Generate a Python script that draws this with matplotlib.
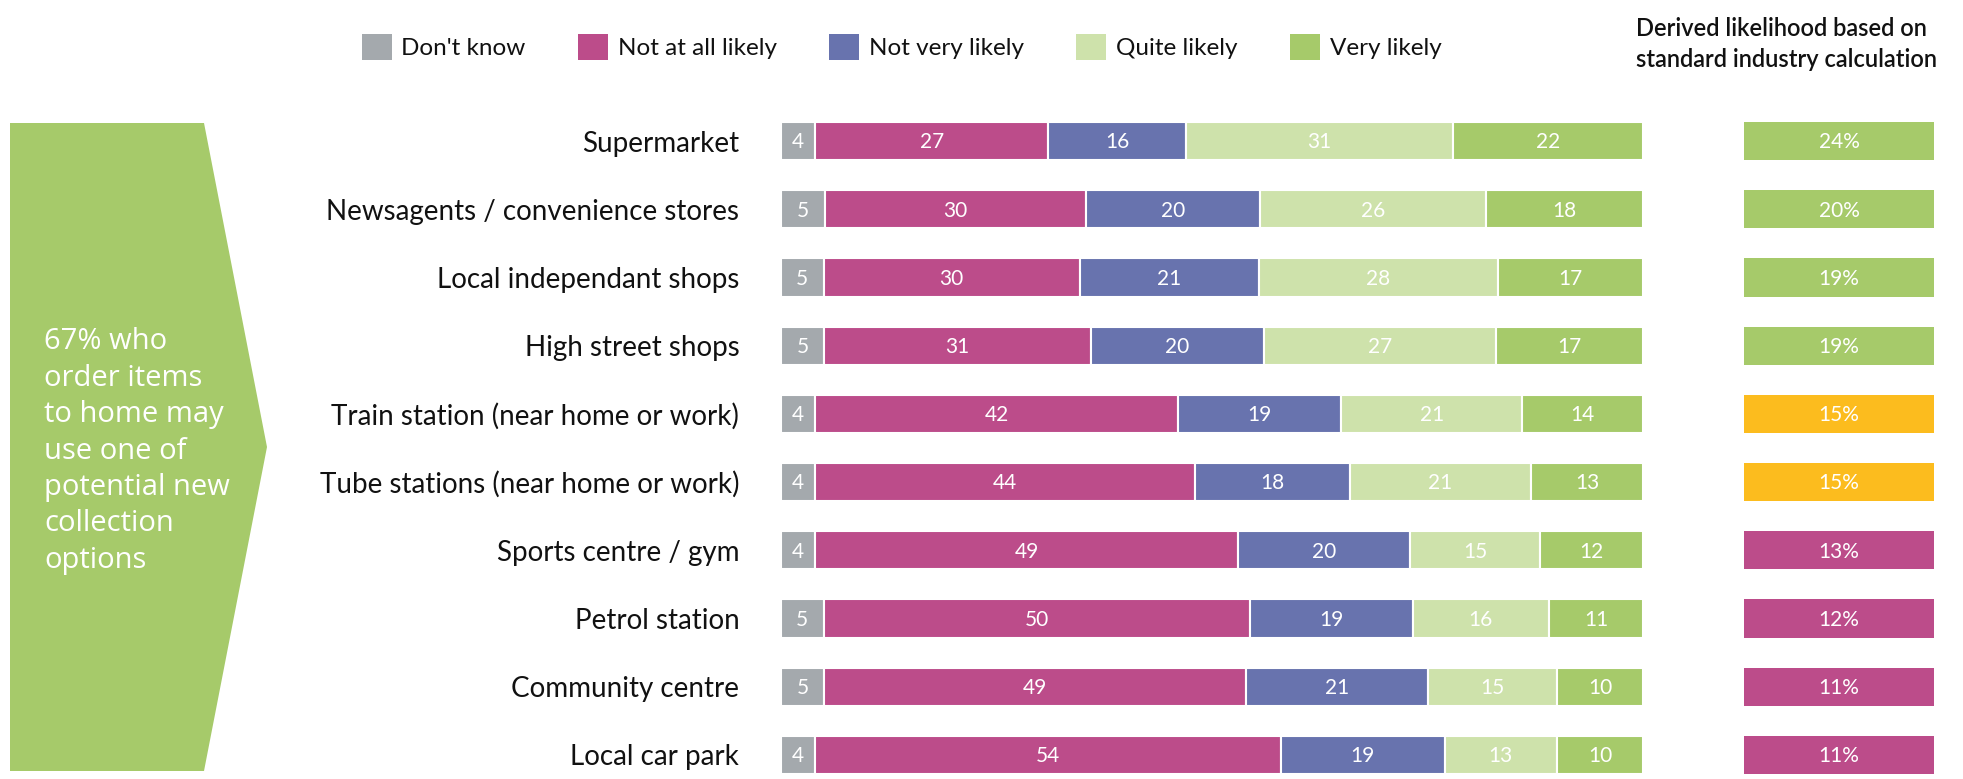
import matplotlib
matplotlib.use('Agg')
import matplotlib.pyplot as plt
from matplotlib.patches import Polygon, Patch

# ---------------- data ----------------
categories = ["Supermarket", "Newsagents / convenience stores", "Local independant shops",
              "High street shops", "Train station (near home or work)",
              "Tube stations (near home or work)", "Sports centre / gym", "Petrol station",
              "Community centre", "Local car park"]
dont_know = [4, 5, 5, 5, 4, 4, 4, 5, 5, 4]
not_at_all_likely = [27, 30, 30, 31, 42, 44, 49, 50, 49, 54]
not_very_likely = [16, 20, 21, 20, 19, 18, 20, 19, 21, 19]
quite_likely = [31, 26, 28, 27, 21, 21, 15, 16, 15, 13]
very_likely = [22, 18, 17, 17, 14, 13, 12, 11, 10, 10]
derived_likelihood = [24, 20, 19, 19, 15, 15, 13, 12, 11, 11]
derived_bands = ["high", "high", "high", "high", "mid", "mid", "low", "low", "low", "low"]

series_names = ["Don't know", "Not at all likely", "Not very likely", "Quite likely", "Very likely"]
series_values = [dont_know, not_at_all_likely, not_very_likely, quite_likely, very_likely]
series_colors = ["#A4A9AD", "#BC4C8A", "#6873AE", "#CEE2AB", "#A6CA6A"]
band_colors = {"high": "#A6CA6A", "mid": "#FCBC1E", "low": "#BC4C8A"}

header_text = "Derived likelihood based on\nstandard industry calculation"
arrow_text = "67% who\norder items\nto home may\nuse one of\npotential new\ncollection\noptions"

# ---------------- layout ----------------
W, H = 1963, 779
fig = plt.figure(figsize=(W / 100, H / 100), dpi=100)
fig.patch.set_facecolor('white')

LABEL_FONT = ['Lato', 'DejaVu Sans']
NUM_FONT = ['Liberation Sans Narrow', 'Lato', 'DejaVu Sans']

# background axes in pixel coords (for arrow shape)
bg = fig.add_axes([0, 0, 1, 1], zorder=0)
bg.set_xlim(0, W)
bg.set_ylim(H, 0)
bg.axis('off')
arrow = Polygon([(10, 123), (204, 123), (267, 447), (204, 771), (10, 771)],
                closed=True, facecolor="#A6CA6A", edgecolor='none')
bg.add_patch(arrow)
bg.text(44, 451, arrow_text, color='white', fontsize=21, family=['Open Sans', 'DejaVu Sans'],
        ha='left', va='center', linespacing=1.34)

# main stacked bar axes
top_px = 107
ax = fig.add_axes([781 / W, 0, (1643 - 781) / W, (H - top_px) / H], zorder=1)
unit = 68.2
ax.set_ylim(-0.5 + (H - top_px) / unit, -0.5)
ax.set_xlim(0, 100)
n = len(categories)
ypos = list(range(n))
row_totals = [sum(s[i] for s in series_values) for i in range(n)]
lefts = [0.0] * n
handles = []
for name, vals, col in zip(series_names, series_values, series_colors):
    widths = [v / t * 100 for v, t in zip(vals, row_totals)]
    ax.barh(ypos, widths, left=lefts, height=0.56, color=col,
            edgecolor='white', linewidth=1.5, label=name)
    for i, (v, w, l) in enumerate(zip(vals, widths, lefts)):
        ax.text(l + w / 2, i + 0.02, f"{v}", ha='center', va='center', color='white',
                fontsize=15, family=NUM_FONT)
    lefts = [l + w for l, w in zip(lefts, widths)]
    handles.append(Patch(facecolor=col, edgecolor='none', label=name))

ax.set_yticks(ypos)
ax.set_yticklabels(categories, fontsize=20, family=LABEL_FONT, color='#111111')
ax.tick_params(axis='y', length=0, pad=30)
ax.set_xticks([])
for sp in ax.spines.values():
    sp.set_visible(False)

# derived likelihood column
ax2 = fig.add_axes([1744 / W, 0, 190 / W, (H - top_px) / H], zorder=1)
ax2.set_ylim(ax.get_ylim())
ax2.set_xlim(0, 1)
ax2.barh(ypos, [1] * n, height=0.56, color=[band_colors[b] for b in derived_bands],
         edgecolor='none')
for i, v in enumerate(derived_likelihood):
    ax2.text(0.5, i + 0.02, f"{v}%", ha='center', va='center', color='white',
             fontsize=15, family=NUM_FONT)
ax2.axis('off')

# legend
fig.legend(handles=handles, loc='center left', bbox_to_anchor=(340 / W, 1 - 47 / H),
           ncol=5, frameon=False, prop={'family': LABEL_FONT, 'size': 17.5},
           handlelength=1.23, handleheight=1.23, handletextpad=0.4, columnspacing=2.16,
           labelcolor='#111111')

fig.text(1636 / W, 1 - 44 / H, header_text, ha='left', va='center', fontsize=17,
         family=LABEL_FONT, color='#111111', fontweight='semibold', linespacing=1.45)

fig.savefig('out.png', dpi=100, facecolor='white')
